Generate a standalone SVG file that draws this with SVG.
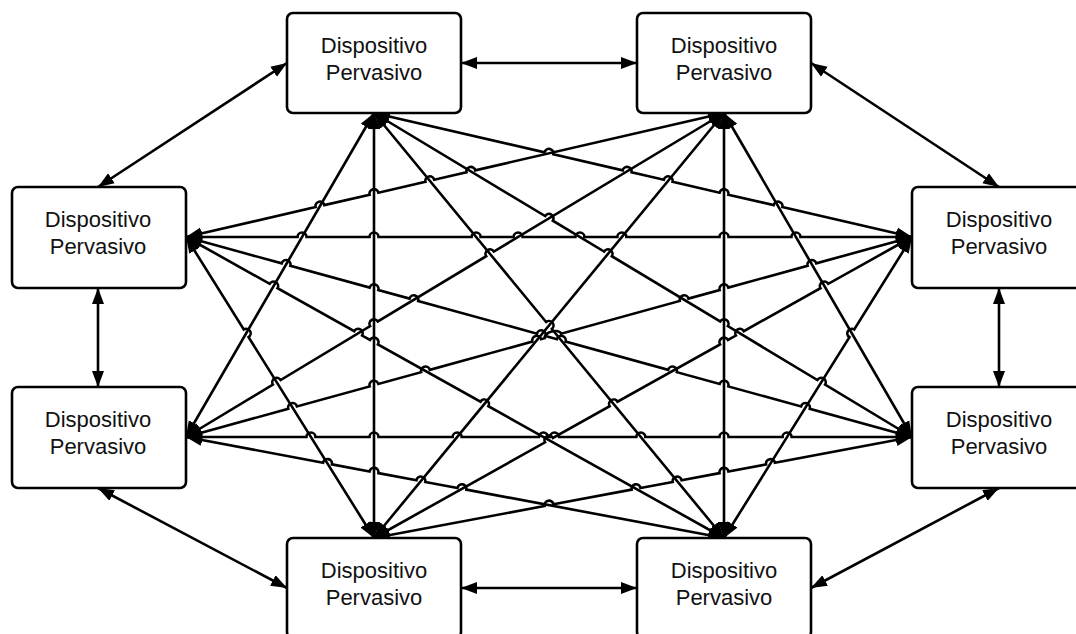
<svg xmlns="http://www.w3.org/2000/svg" width="1076" height="634" viewBox="0 0 1076 634">
<style>
.box{fill:#fff;stroke:#000;stroke-width:2.6}
.t{font-family:"Liberation Sans",Arial,sans-serif;font-size:22px;fill:#111;text-anchor:middle}
.c line,.c path{stroke:#000;stroke-width:2.6;fill:none;marker-start:url(#ah);marker-end:url(#ah)}
</style>
<defs>
<marker id="ah" markerUnits="userSpaceOnUse" markerWidth="17" markerHeight="13" refX="16" refY="6.5" orient="auto-start-reverse">
<path d="M0,0.5 L16,6.5 L0,12.5 z" fill="#000"/>
</marker>
</defs>
<rect width="1076" height="634" fill="#fff"/>
<g class="c" id="connectors">
<line x1="461" y1="63" x2="637" y2="63"/>
<line x1="811" y1="63" x2="999" y2="187"/>
<line x1="999" y1="288" x2="999" y2="387"/>
<line x1="999" y1="488" x2="811" y2="588"/>
<line x1="637" y1="588" x2="461" y2="588"/>
<line x1="287" y1="588" x2="98" y2="488"/>
<line x1="98" y1="387" x2="98" y2="288"/>
<line x1="98" y1="187" x2="287" y2="63"/>
<line x1="374" y1="113" x2="374" y2="538"/>
<line x1="374" y1="113" x2="186" y2="437"/>
<line x1="724" y1="113" x2="912" y2="437"/>
<line x1="724" y1="113" x2="724" y2="538"/>
<line x1="724" y1="113" x2="374" y2="538"/>
<path transform="translate(374,113) rotate(12.978)" d="M0,0 H175.08 a4.5,4.5 0 0 1 9,0 H255.26 a4.5,4.5 0 0 1 9,0 H297.37 a4.5,4.5 0 0 1 9,0 H354.67 a4.5,4.5 0 0 1 9,0 H410.11 a4.5,4.5 0 0 1 9,0 H552.1"/>
<path transform="translate(374,113) rotate(31.058)" d="M0,0 H199.78 a4.5,4.5 0 0 1 9,0 H268.62 a4.5,4.5 0 0 1 9,0 H404.07 a4.5,4.5 0 0 1 9,0 H517.56 a4.5,4.5 0 0 1 9,0 H628.03"/>
<path transform="translate(374,113) rotate(50.528)" d="M0,0 H270.78 a4.5,4.5 0 0 1 9,0 H550.57"/>
<path transform="translate(186,437) rotate(-31.058)" d="M0,0 H101.48 a4.5,4.5 0 0 1 9,0 H214.96 a4.5,4.5 0 0 1 9,0 H350.41 a4.5,4.5 0 0 1 9,0 H628.03"/>
<path transform="translate(186,237) rotate(-12.978)" d="M0,0 H132.98 a4.5,4.5 0 0 1 9,0 H188.42 a4.5,4.5 0 0 1 9,0 H245.73 a4.5,4.5 0 0 1 9,0 H287.84 a4.5,4.5 0 0 1 9,0 H552.1"/>
<path transform="translate(724,538) rotate(-58.012)" d="M0,0 H236.82 a4.5,4.5 0 0 1 9,0 H354.89"/>
<path transform="translate(374,538) rotate(-29.226)" d="M0,0 H196.03 a4.5,4.5 0 0 1 9,0 H270.05 a4.5,4.5 0 0 1 9,0 H396.55 a4.5,4.5 0 0 1 9,0 H414.7 a4.5,4.5 0 0 1 9,0 H511.59 a4.5,4.5 0 0 1 9,0 H616.48"/>
<path transform="translate(186,437) rotate(-15.402)" d="M0,0 H106.05 a4.5,4.5 0 0 1 9,0 H190.5 a4.5,4.5 0 0 1 9,0 H243.95 a4.5,4.5 0 0 1 9,0 H359.31 a4.5,4.5 0 0 1 9,0 H372.02 a8.5,4.5 0 0 1 17,0 H512.2 a4.5,4.5 0 0 1 9,0 H553.54 a4.5,4.5 0 0 1 9,0 H644.75 a4.5,4.5 0 0 1 9,0 H753.04"/>
<path transform="translate(186,237)" d="M0,0 H111.55 a4.5,4.5 0 0 1 9,0 H183.5 a4.5,4.5 0 0 1 9,0 H285.62 a4.5,4.5 0 0 1 9,0 H327.6 a4.5,4.5 0 0 1 9,0 H389.4 a4.5,4.5 0 0 1 9,0 H431.38 a4.5,4.5 0 0 1 9,0 H533.5 a4.5,4.5 0 0 1 9,0 H605.45 a4.5,4.5 0 0 1 9,0 H726"/>
<path transform="translate(374,538) rotate(-10.629)" d="M0,0 H173.56 a4.5,4.5 0 0 1 9,0 H262.14 a4.5,4.5 0 0 1 9,0 H303.93 a4.5,4.5 0 0 1 9,0 H351.61 a4.5,4.5 0 0 1 9,0 H398.92 a4.5,4.5 0 0 1 9,0 H547.4"/>
<path transform="translate(186,437)" d="M0,0 H120.42 a4.5,4.5 0 0 1 9,0 H183.5 a4.5,4.5 0 0 1 9,0 H266.67 a4.5,4.5 0 0 1 9,0 H352.97 a4.5,4.5 0 0 1 9,0 H364.03 a4.5,4.5 0 0 1 9,0 H450.33 a4.5,4.5 0 0 1 9,0 H533.5 a4.5,4.5 0 0 1 9,0 H596.58 a4.5,4.5 0 0 1 9,0 H726"/>
<path transform="translate(186,237) rotate(15.402)" d="M0,0 H99.29 a4.5,4.5 0 0 1 9,0 H190.5 a4.5,4.5 0 0 1 9,0 H231.85 a4.5,4.5 0 0 1 9,0 H364.01 a4.5,4.5 0 0 1 9,0 H384.73 a4.5,4.5 0 0 1 9,0 H500.09 a4.5,4.5 0 0 1 9,0 H553.54 a4.5,4.5 0 0 1 9,0 H637.99 a4.5,4.5 0 0 1 9,0 H753.04"/>
<path transform="translate(186,437) rotate(10.629)" d="M0,0 H139.48 a4.5,4.5 0 0 1 9,0 H186.78 a4.5,4.5 0 0 1 9,0 H234.47 a4.5,4.5 0 0 1 9,0 H276.26 a4.5,4.5 0 0 1 9,0 H547.4"/>
<path transform="translate(186,237) rotate(29.226)" d="M0,0 H95.89 a4.5,4.5 0 0 1 9,0 H192.77 a4.5,4.5 0 0 1 9,0 H210.92 a4.5,4.5 0 0 1 9,0 H337.43 a4.5,4.5 0 0 1 9,0 H616.48"/>
<path transform="translate(186,237) rotate(58.012)" d="M0,0 H109.06 a4.5,4.5 0 0 1 9,0 H354.89"/>
</g>
<g id="n-tl"><rect class="box" x="287" y="13" width="174" height="100" rx="6"/><text class="t" x="374" y="53">Dispositivo</text><text class="t" x="374" y="80">Pervasivo</text></g>
<g id="n-tr"><rect class="box" x="637" y="13" width="174" height="100" rx="6"/><text class="t" x="724" y="53">Dispositivo</text><text class="t" x="724" y="80">Pervasivo</text></g>
<g id="n-ru"><rect class="box" x="912" y="187" width="174" height="101" rx="6"/><text class="t" x="999" y="227">Dispositivo</text><text class="t" x="999" y="254">Pervasivo</text></g>
<g id="n-rl"><rect class="box" x="912" y="387" width="174" height="101" rx="6"/><text class="t" x="999" y="427">Dispositivo</text><text class="t" x="999" y="454">Pervasivo</text></g>
<g id="n-br"><rect class="box" x="637" y="538" width="174" height="100" rx="6"/><text class="t" x="724" y="578">Dispositivo</text><text class="t" x="724" y="605">Pervasivo</text></g>
<g id="n-bl"><rect class="box" x="287" y="538" width="174" height="100" rx="6"/><text class="t" x="374" y="578">Dispositivo</text><text class="t" x="374" y="605">Pervasivo</text></g>
<g id="n-ll"><rect class="box" x="12" y="387" width="174" height="101" rx="6"/><text class="t" x="98" y="427">Dispositivo</text><text class="t" x="98" y="454">Pervasivo</text></g>
<g id="n-lu"><rect class="box" x="12" y="187" width="174" height="101" rx="6"/><text class="t" x="98" y="227">Dispositivo</text><text class="t" x="98" y="254">Pervasivo</text></g>
</svg>
